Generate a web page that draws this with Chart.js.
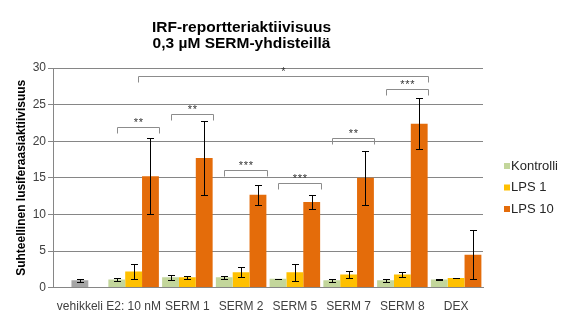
<!DOCTYPE html>
<html>
<head>
<meta charset="utf-8">
<script src="https://cdn.jsdelivr.net/npm/chart.js@4.4.1/dist/chart.umd.min.js"></script>
<style>
  html, body { margin: 0; padding: 0; background: #fff; }
  #wrap { width: 570px; height: 330px; position: relative; }
</style>
</head>
<body>
<div id="wrap"><canvas id="irf"></canvas></div>
<script>
const categories = ['vehikkeli', 'E2: 10 nM', 'SERM 1', 'SERM 2', 'SERM 5', 'SERM 7', 'SERM 8', 'DEX'];

const vehicle    = [1.0, null, null, null, null, null, null, null];
const vehicleErr = [0.2, null, null, null, null, null, null, null];
const kontrolli    = [null, 1.1, 1.4, 1.4, 1.2, 1.0, 1.0, 1.1];
const kontrolliErr = [null, 0.2, 0.3, 0.2, 0.02, 0.2, 0.2, 0.1];
const lps1    = [null, 2.2, 1.4, 2.1, 2.1, 1.8, 1.8, 1.3];
const lps1Err = [null, 1.0, 0.2, 0.7, 1.15, 0.5, 0.35, 0.05];
const lps10    = [null, 15.2, 17.7, 12.7, 11.7, 15.0, 22.4, 4.5];
const lps10Err = [null, 5.2, 5.1, 1.35, 0.95, 3.65, 3.45, 3.35];

const yTicks = [0, 5, 10, 15, 20, 25, 30];

// significance brackets: category span, level on the y scale, stars
const sigFrom  = [1, 2, 3, 4, 5, 6, 1];
const sigTo    = [1, 2, 3, 4, 5, 6, 6];
const sigLevel = [22.0, 23.7, 16.1, 14.3, 20.5, 27.1, 28.9];
const sigText  = ['**', '**', '***', '***', '**', '***', '*'];

const FONT = "'Liberation Sans', Arial, sans-serif";

const errorBars = {
  id: 'errorBars',
  afterDatasetsDraw(chart) {
    const { ctx } = chart;
    const y = chart.scales.y;
    ctx.save();
    ctx.strokeStyle = '#000';
    ctx.lineWidth = 1;
    chart.data.datasets.forEach((ds, di) => {
      if (!ds.errors) return;
      const meta = chart.getDatasetMeta(di);
      meta.data.forEach((bar, i) => {
        const v = ds.data[i], e = ds.errors[i];
        if (v == null || e == null) return;
        const x = Math.round(bar.x) + 0.5;
        const top = Math.round(y.getPixelForValue(v + e)) + 0.5;
        const bot = Math.round(y.getPixelForValue(v - e)) + 0.5;
        ctx.beginPath();
        ctx.moveTo(x, top); ctx.lineTo(x, bot);
        ctx.moveTo(x - 3.5, top); ctx.lineTo(x + 3.5, top);
        ctx.moveTo(x - 3.5, bot); ctx.lineTo(x + 3.5, bot);
        ctx.stroke();
      });
    });
    ctx.restore();
  }
};

const brackets = {
  id: 'brackets',
  afterDatasetsDraw(chart) {
    const { ctx } = chart;
    const x = chart.scales.x, y = chart.scales.y;
    const cw = x.width / categories.length;
    ctx.save();
    sigLevel.forEach((lvl, k) => {
      const long = sigFrom[k] !== sigTo[k];
      const x0 = Math.round(x.getPixelForValue(sigFrom[k]) + (long ? 0.08 : -0.31) * cw) + 0.5;
      const x1 = Math.round(x.getPixelForValue(sigTo[k]) + 0.48 * cw) + 0.5;
      const yy = Math.round(y.getPixelForValue(lvl)) + 0.5;
      ctx.strokeStyle = '#8c8c8c';
      ctx.lineWidth = 1;
      ctx.beginPath();
      ctx.moveTo(x0, yy + 6); ctx.lineTo(x0, yy); ctx.lineTo(x1, yy); ctx.lineTo(x1, yy + 6);
      ctx.stroke();
      const s = sigText[k];
      const gap = 5;
      const cx = (x0 + x1) / 2 - (s.length - 1) * gap / 2;
      ctx.fillStyle = '#333';
      ctx.font = '11px ' + FONT;
      ctx.textAlign = 'center';
      ctx.textBaseline = 'middle';
      for (let c = 0; c < s.length; c++) ctx.fillText('*', cx + c * gap, yy - 5);
    });
    ctx.restore();
  }
};

const sideLegend = {
  id: 'sideLegend',
  afterDraw(chart) {
    const { ctx, chartArea } = chart;
    const items = chart.data.datasets.filter(d => d.label !== 'vehikkeli');
    ctx.save();
    ctx.font = '13px ' + FONT;
    ctx.textBaseline = 'middle';
    ctx.textAlign = 'left';
    items.forEach((d, i) => {
      const lx = chartArea.right + 21;
      const ly = 166 + i * 21.5;
      ctx.fillStyle = d.backgroundColor;
      ctx.fillRect(lx, ly - 3, 6, 6);
      ctx.fillStyle = '#262626';
      ctx.fillText(d.label, lx + 7, ly);
    });
    ctx.restore();
  }
};

new Chart(document.getElementById('irf'), {
  type: 'bar',
  data: {
    labels: categories,
    datasets: [
      { label: 'Kontrolli', data: kontrolli, errors: kontrolliErr, backgroundColor: '#c3d69b', stack: 'a' },
      { label: 'LPS 1', data: lps1, errors: lps1Err, backgroundColor: '#ffc000', stack: 'b' },
      { label: 'LPS 10', data: lps10, errors: lps10Err, backgroundColor: '#e46c0a', stack: 'c' },
      { label: 'vehikkeli', data: vehicle, errors: vehicleErr, backgroundColor: '#a5a5a5', stack: 'b' },
    ],
  },
  options: {
    responsive: true,
    maintainAspectRatio: false,
    animation: false,
    layout: { padding: { left: 0, right: 87, top: 0, bottom: 12 } },
    datasets: { bar: { categoryPercentage: 0.94, barPercentage: 1.0, borderWidth: 0 } },
    plugins: {
      legend: { display: false },
      tooltip: { enabled: false },
      title: {
        display: true,
        text: ['IRF-reportteriaktiivisuus', '0,3 µM SERM-yhdisteillä'],
        color: '#000',
        font: { family: FONT, size: 15.5, weight: 'bold', lineHeight: 1.0 },
        padding: { top: 20, bottom: 17 },
      },
    },
    scales: {
      x: {
        grid: { display: false },
        border: { display: true, color: '#868686' },
        ticks: { color: '#404040', font: { family: FONT, size: 12 }, padding: 4, maxRotation: 0, autoSkip: false },
      },
      y: {
        stacked: false,
        min: 0, max: 30,
        afterBuildTicks: (s) => { s.ticks = yTicks.map(v => ({ value: v })); },
        afterFit: (s) => { s.width = 53; },
        grid: { color: '#868686', lineWidth: 1, tickLength: 5, drawTicks: true },
        border: { display: true, color: '#868686' },
        ticks: { color: '#404040', font: { family: FONT, size: 12 }, padding: 2 },
        title: {
          display: true,
          text: 'Suhteellinen lusiferaasiaktiivisuus',
          color: '#000',
          font: { family: FONT, size: 12, weight: 'bold' },
          padding: { top: 14, bottom: 0 },
        },
      },
    },
  },
  plugins: [errorBars, brackets, sideLegend],
});
</script>
</body>
</html>
